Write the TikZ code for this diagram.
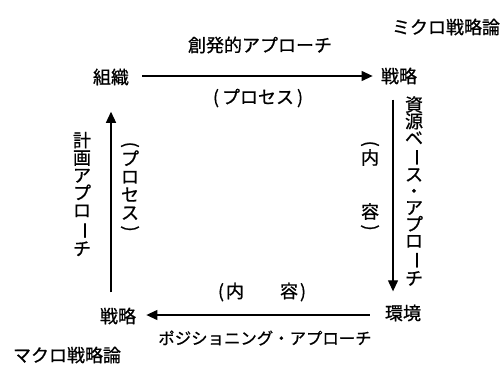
\documentclass[tikz,border=0pt]{standalone}
\usepackage{fontspec}
\usepackage{graphicx}
\newfontfamily\jp[FakeBold=0.8]{Noto Sans CJK JP}
\usetikzlibrary{arrows.meta}
\newcommand{\vbar}{\rotatebox[origin=c]{-90}{ー}}
\newcommand{\vlp}{\rotatebox[origin=c]{-90}{(}}
\newcommand{\vrp}{\rotatebox[origin=c]{-90}{)}}
\begin{document}
\begin{tikzpicture}[x=0.5pt,y=-0.5pt,
  every node/.style={font=\jp\fontsize{9}{9}\selectfont, inner sep=3pt},
  lbl/.style={inner sep=0pt},
  vt/.style={align=center, inner sep=0pt},
  arr/.style={line width=0.6pt, -{Triangle[length=5.5pt,width=5pt]}}]
\useasboundingbox (0,0) rectangle (501,374);
% labels
\node[lbl] (micro) at (446,27) {ミクロ戦略論};
\node[lbl] (macro) at (67,355) {マクロ戦略論};
% corner nodes
\node (o)  at (111,77) {組織};
\node (s1) at (399,76) {戦略};
\node (e)  at (403,313) {環境};
\node (s2) at (118,316) {戦略};
% arrows
\draw[arr, shorten <=3.5pt, shorten >=1pt] (o.east |- s1.east) -- (s1.west);
\draw[arr, shorten <=4.5pt, shorten >=3.5pt] ([xshift=-3pt]s1.south) -- ([xshift=-3pt]s1.south |- e.north);
\draw[arr, shorten <=4.5pt, shorten >=2pt] ([yshift=-1pt]e.west) -- ([yshift=-1pt]e.west -| s2.east);
\draw[arr, shorten <=4.5pt, shorten >=10pt] (o.south |- s2.north) -- (o.south);
% top labels
\node[lbl] (t1) at (260,45) {創発的アプローチ};
\node[lbl] (t2) at (258,98) {(\kern1.5ptプロセス\kern1.5pt)};
% bottom labels
\node[lbl] (b1) at (262,292) {(\kern1pt 内　　容\kern1pt)};
\node[lbl, font=\jp\fontsize{8.2}{9}\selectfont] (b2) at (265,338) {ポジショニング・アプローチ};
% left vertical labels
\node[vt, font=\jp\fontsize{9}{8.75}\selectfont] (l1) at (82,194) {計\\画\\ア\\プ\\ロ\\\vbar\\チ};
\node[vt, font=\jp\fontsize{9}{9}\selectfont] (l2) at (130,188) {\vlp\\[-1.5pt]プ\\ロ\\セ\\ス\\[-1.5pt]\vrp};
% right vertical labels
\node[vt, font=\jp\fontsize{9}{8.3}\selectfont] (r1) at (414,191) {資\\源\\ベ\\\vbar\\ス\\・\\ア\\プ\\ロ\\\vbar\\チ};
\node[vt, font=\jp\fontsize{9}{9}\selectfont] (r2) at (370,187) {\vlp\\[-1.5pt]内\\\mbox{}\\\mbox{}\\容\\[-1.5pt]\vrp};
\end{tikzpicture}
\end{document}
